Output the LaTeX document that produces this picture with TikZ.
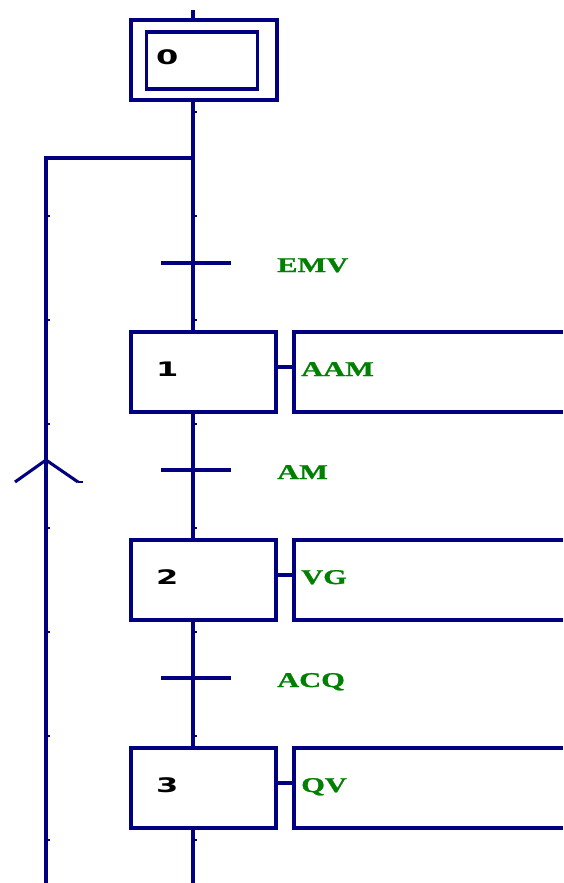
\documentclass[tikz,border=0pt]{standalone}
\usepackage{fontspec}
\newfontfamily\actfont{Liberation Serif}[FakeStretch=1.45,BoldFeatures={FakeStretch=1.45,FakeBold=1.2}]
\newfontfamily\numfont{DejaVu Sans}[FakeStretch=1.6]
\definecolor{sfcblue}{RGB}{0,0,128}
\definecolor{sfcgreen}{RGB}{0,128,0}
\begin{document}
\begin{tikzpicture}[x=1pt,y=-1pt,
  wire/.style={draw=sfcblue,line width=3.05pt},
  tick/.style={draw=sfcblue,line width=2pt},
  stepbox/.style={draw=sfcblue,line width=3.05pt,rectangle,inner sep=0pt,outer sep=0pt,minimum width=145pt,minimum height=80pt},
  num/.style={anchor=base west,inner sep=0pt,font=\numfont\bfseries\fontsize{20}{20}\selectfont,text=black},
  act/.style={anchor=base west,inner sep=0pt,font=\actfont\bfseries\fontsize{21}{21}\selectfont,text=sfcgreen}]
\useasboundingbox (0,0) rectangle (563,883);
% steps
\node[stepbox,minimum width=146pt] (s0) at (204,60) {};
\node[stepbox,minimum width=111pt,minimum height=57pt] (s0i) at (202,60.5) {};
\node[num] (n0) at (156,65) {0};
\node[stepbox] (s1) at (203.5,372) {};
\node[num] (n1) at (156,376) {1};
\node[stepbox] (s2) at (203.5,580) {};
\node[num] (n2) at (156,584) {2};
\node[stepbox] (s3) at (203.5,788) {};
\node[num] (n3) at (156,792) {3};
% main line
\coordinate (top) at (193,10);
\coordinate (bot) at (193,883);
\draw[wire] (top) -- (top |- s0.north);
\draw[wire] (top |- s0.south) -- (top |- s1.north);
\draw[wire] (top |- s1.south) -- (top |- s2.north);
\draw[wire] (top |- s2.south) -- (top |- s3.north);
\draw[wire] (top |- s3.south) -- (bot);
% loop back
\coordinate (jn) at (193,158);
\coordinate (lj) at (46,158);
\coordinate (lb) at (46,883);
\draw[wire] (jn) -- (lj) -- (lb);
\coordinate (ap) at (46,460);
\coordinate (al) at (15,482);
\coordinate (ar) at (78,482);
\coordinate (ar2) at (83,482);
\draw[wire] (al) -- (ap) -- (ar);
\draw[tick] (ar) -- (ar2);
% transitions
\foreach \y/\t/\n in {263/EMV/t1,470/AM/t2,678/ACQ/t3}{
  \coordinate (\n l) at (161,\y);
  \coordinate (\n r) at (231,\y);
  \draw[wire] (\n l) -- (\n r);
  \node[act] (\n x) at (277,\y+9) {\t};
}
% actions
\foreach \s/\yc/\t in {s1/372/AAM,s2/580/VG,s3/788/QV}{
  \coordinate (\s a) at (294,\yc-5);
  \draw[wire] (\s.east |- \s a) -- (\s a);
  \coordinate (\s tl) at (294,\yc-40);
  \coordinate (\s bl) at (294,\yc+40);
  \draw[wire] (563,\yc-40) -- (\s tl) -- (\s bl) -- (563,\yc+40);
  \node[act] (\s t) at (301,\yc+4) {\t};
}
% small grid ticks
\foreach \y in {112,216,320,424,528,632,736,840}
  \draw[tick] (193,\y) -- (197,\y);
\foreach \y in {216,320,424,528,632,736,840}
  \draw[tick] (46,\y) -- (50,\y);
\end{tikzpicture}
\end{document}
